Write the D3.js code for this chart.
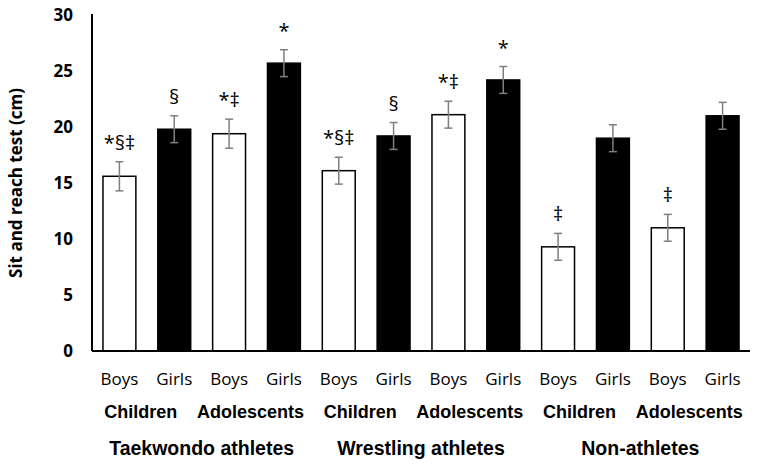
<!DOCTYPE html>
<html>
<head>
<meta charset="utf-8">
<script src="https://cdn.jsdelivr.net/npm/d3@7"></script>
<style>
  body { margin: 0; background: #fff; }
  svg { display: block; }
</style>
</head>
<body>
<svg id="chart" width="759" height="468"></svg>
<script>
// Data
let sexes = ["Boys", "Girls", "Boys", "Girls", "Boys", "Girls", "Boys", "Girls", "Boys", "Girls", "Boys", "Girls"];
let ageGroups = ["Children", "Adolescents", "Children", "Adolescents", "Children", "Adolescents"];
let sportGroups = ["Taekwondo athletes", "Wrestling athletes", "Non-athletes"];
let values = [15.6, 19.8, 19.4, 25.7, 16.1, 19.2, 21.1, 24.2, 9.3, 19.0, 11.0, 21.0];
let errors = [1.3, 1.2, 1.3, 1.2, 1.2, 1.2, 1.2, 1.2, 1.2, 1.2, 1.2, 1.2];
let marks = ["*§‡", "§", "*‡", "*", "*§‡", "§", "*‡", "*", "‡", "", "‡", ""];
let yTicks = [0, 5, 10, 15, 20, 25, 30];

let svg = d3.select("#chart");
let plotLeft = 92, plotRight = 750, plotTop = 15, plotBottom = 351;

let x = d3.scaleBand()
    .domain(d3.range(values.length))
    .range([plotLeft, plotRight])
    .paddingInner(0.4)
    .paddingOuter(0.2);

let y = d3.scaleLinear().domain([0, 30]).range([plotBottom, plotTop]);

// Bars
svg.selectAll("rect.bar")
    .data(values)
    .enter()
    .append("rect")
    .attr("class", "bar")
    .attr("x", (d, i) => x(i))
    .attr("y", d => y(d))
    .attr("width", x.bandwidth())
    .attr("height", d => y(0) - y(d))
    .attr("fill", (d, i) => i % 2 ? "#000" : "#fff")
    .attr("stroke", "#000")
    .attr("stroke-width", 1.5);

// Error bars
let eb = svg.selectAll("g.err")
    .data(values)
    .enter()
    .append("g")
    .attr("class", "err")
    .attr("stroke", "#7f7f7f")
    .attr("stroke-width", 1.5);

eb.append("line")
    .attr("x1", (d, i) => x(i) + x.bandwidth() / 2)
    .attr("x2", (d, i) => x(i) + x.bandwidth() / 2)
    .attr("y1", (d, i) => y(d - errors[i]))
    .attr("y2", (d, i) => y(d + errors[i]));
eb.append("line")
    .attr("x1", (d, i) => x(i) + x.bandwidth() / 2 - 4)
    .attr("x2", (d, i) => x(i) + x.bandwidth() / 2 + 4)
    .attr("y1", (d, i) => y(d + errors[i]))
    .attr("y2", (d, i) => y(d + errors[i]));
eb.append("line")
    .attr("x1", (d, i) => x(i) + x.bandwidth() / 2 - 4)
    .attr("x2", (d, i) => x(i) + x.bandwidth() / 2 + 4)
    .attr("y1", (d, i) => y(d - errors[i]))
    .attr("y2", (d, i) => y(d - errors[i]));

// Significance marks
svg.selectAll("text.mark")
    .data(marks)
    .enter()
    .append("text")
    .attr("class", "mark")
    .attr("x", (d, i) => x(i) + x.bandwidth() / 2)
    .attr("y", (d, i) => y(values[i] + errors[i]) - 12)
    .attr("text-anchor", "middle")
    .attr("font-family", "Open Sans, sans-serif")
    .attr("font-size", 20)
    .attr("fill", "#000")
    .text(d => d);

// Axes
svg.append("line")
    .attr("x1", plotLeft).attr("x2", plotLeft)
    .attr("y1", plotTop - 1).attr("y2", plotBottom)
    .attr("stroke", "#000").attr("stroke-width", 2);
svg.append("line")
    .attr("x1", plotLeft).attr("x2", plotRight)
    .attr("y1", plotBottom).attr("y2", plotBottom)
    .attr("stroke", "#000").attr("stroke-width", 2);

svg.selectAll("text.ytick")
    .data(yTicks)
    .enter()
    .append("text")
    .attr("class", "ytick")
    .attr("x", 73)
    .attr("y", d => y(d))
    .attr("dy", "0.36em")
    .attr("text-anchor", "end")
    .attr("font-family", "Open Sans, sans-serif")
    .attr("font-weight", "bold")
    .attr("font-size", 17)
    .text(d => d);

svg.append("text")
    .attr("transform", "translate(22," + (plotTop + plotBottom) / 2 + ") rotate(-90)")
    .attr("text-anchor", "middle")
    .attr("font-family", "Open Sans, sans-serif")
    .attr("font-weight", "bold")
    .attr("font-size", 17)
    .text("Sit and reach test (cm)");

// Category labels
svg.selectAll("text.sex")
    .data(sexes)
    .enter()
    .append("text")
    .attr("class", "sex")
    .attr("x", (d, i) => x(i) + x.bandwidth() / 2)
    .attr("y", 385)
    .attr("text-anchor", "middle")
    .attr("font-family", "Open Sans, sans-serif")
    .attr("font-size", 17)
    .text(d => d);

svg.selectAll("text.age")
    .data(ageGroups)
    .enter()
    .append("text")
    .attr("class", "age")
    .attr("x", (d, i) => (x(2 * i) + x(2 * i + 1) + x.bandwidth()) / 2 - 6)
    .attr("y", 418)
    .attr("text-anchor", "middle")
    .attr("font-family", "Liberation Sans, Arial, sans-serif")
    .attr("font-weight", "bold")
    .attr("font-size", 18)
    .text(d => d);

svg.selectAll("text.sport")
    .data(sportGroups)
    .enter()
    .append("text")
    .attr("class", "sport")
    .attr("x", (d, i) => (x(4 * i) + x(4 * i + 3) + x.bandwidth()) / 2)
    .attr("y", 455)
    .attr("text-anchor", "middle")
    .attr("font-family", "Liberation Sans, Arial, sans-serif")
    .attr("font-weight", "bold")
    .attr("font-size", 19.5)
    .text(d => d);
</script>
</body>
</html>
